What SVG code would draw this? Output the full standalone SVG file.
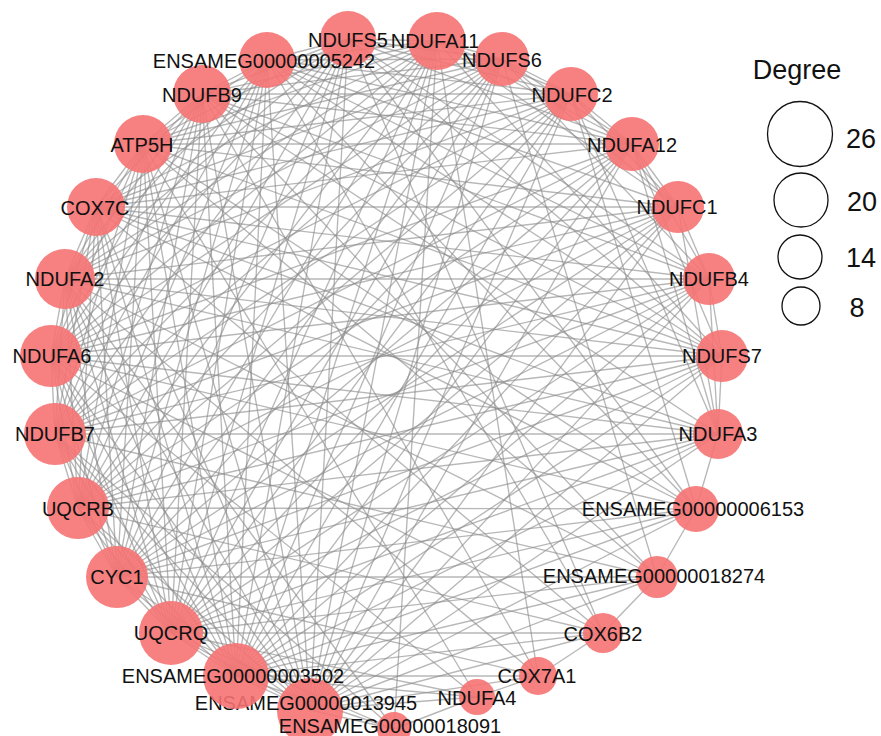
<svg xmlns="http://www.w3.org/2000/svg" width="881" height="736" viewBox="0 0 881 736">
<style>
.e{stroke:#8a8a8a;stroke-opacity:.62;stroke-width:1.35;fill:none}
.n circle{fill:#f67272;fill-opacity:.9}
.n text,.lg text{font-family:"Liberation Sans",Arial,sans-serif;fill:#111;text-anchor:middle}
.n text{font-size:20px}
.lg text{font-size:27px}
.lg circle{fill:none;stroke:#111;stroke-width:1.3}
</style>
<rect width="881" height="736" fill="#fff"/>
<g id="edges">
<line class="e" x1="394" y1="729" x2="310" y2="710"/>
<line class="e" x1="394" y1="729" x2="236" y2="676"/>
<line class="e" x1="394" y1="729" x2="171" y2="633"/>
<line class="e" x1="477" y1="697" x2="394" y2="729"/>
<line class="e" x1="437" y1="41" x2="394" y2="729"/>
<line class="e" x1="394" y1="729" x2="65" y2="279"/>
<line class="e" x1="394" y1="729" x2="55" y2="434"/>
<line class="e" x1="477" y1="697" x2="310" y2="710"/>
<line class="e" x1="477" y1="697" x2="236" y2="676"/>
<line class="e" x1="538" y1="676" x2="477" y2="697"/>
<line class="e" x1="477" y1="697" x2="171" y2="633"/>
<line class="e" x1="477" y1="697" x2="51" y2="356"/>
<line class="e" x1="477" y1="697" x2="143" y2="144"/>
<line class="e" x1="538" y1="676" x2="310" y2="710"/>
<line class="e" x1="538" y1="676" x2="236" y2="676"/>
<line class="e" x1="603" y1="633" x2="538" y2="676"/>
<line class="e" x1="538" y1="676" x2="117" y2="577"/>
<line class="e" x1="538" y1="676" x2="65" y2="279"/>
<line class="e" x1="538" y1="676" x2="202" y2="94"/>
<line class="e" x1="437" y1="41" x2="538" y2="676"/>
<line class="e" x1="603" y1="633" x2="310" y2="710"/>
<line class="e" x1="603" y1="633" x2="236" y2="676"/>
<line class="e" x1="657" y1="577" x2="603" y2="633"/>
<line class="e" x1="603" y1="633" x2="171" y2="633"/>
<line class="e" x1="603" y1="633" x2="78" y2="508"/>
<line class="e" x1="603" y1="633" x2="51" y2="356"/>
<line class="e" x1="603" y1="633" x2="96" y2="207"/>
<line class="e" x1="348" y1="39" x2="603" y2="633"/>
<line class="e" x1="603" y1="633" x2="267" y2="60"/>
<line class="e" x1="657" y1="577" x2="310" y2="710"/>
<line class="e" x1="657" y1="577" x2="236" y2="676"/>
<line class="e" x1="696" y1="509" x2="657" y2="577"/>
<line class="e" x1="657" y1="577" x2="171" y2="633"/>
<line class="e" x1="657" y1="577" x2="117" y2="577"/>
<line class="e" x1="657" y1="577" x2="55" y2="434"/>
<line class="e" x1="657" y1="577" x2="65" y2="279"/>
<line class="e" x1="657" y1="577" x2="143" y2="144"/>
<line class="e" x1="657" y1="577" x2="202" y2="94"/>
<line class="e" x1="502" y1="59" x2="657" y2="577"/>
<line class="e" x1="696" y1="509" x2="310" y2="710"/>
<line class="e" x1="696" y1="509" x2="236" y2="676"/>
<line class="e" x1="718" y1="434" x2="696" y2="509"/>
<line class="e" x1="696" y1="509" x2="171" y2="633"/>
<line class="e" x1="696" y1="509" x2="117" y2="577"/>
<line class="e" x1="696" y1="509" x2="78" y2="508"/>
<line class="e" x1="696" y1="509" x2="51" y2="356"/>
<line class="e" x1="696" y1="509" x2="96" y2="207"/>
<line class="e" x1="696" y1="509" x2="143" y2="144"/>
<line class="e" x1="348" y1="39" x2="696" y2="509"/>
<line class="e" x1="696" y1="509" x2="267" y2="60"/>
<line class="e" x1="571" y1="94" x2="696" y2="509"/>
<line class="e" x1="348" y1="39" x2="437" y2="41"/>
<line class="e" x1="348" y1="39" x2="502" y2="59"/>
<line class="e" x1="348" y1="39" x2="571" y2="94"/>
<line class="e" x1="348" y1="39" x2="632" y2="144"/>
<line class="e" x1="348" y1="39" x2="709" y2="279"/>
<line class="e" x1="348" y1="39" x2="722" y2="356"/>
<line class="e" x1="348" y1="39" x2="310" y2="710"/>
<line class="e" x1="348" y1="39" x2="236" y2="676"/>
<line class="e" x1="348" y1="39" x2="171" y2="633"/>
<line class="e" x1="348" y1="39" x2="117" y2="577"/>
<line class="e" x1="348" y1="39" x2="78" y2="508"/>
<line class="e" x1="348" y1="39" x2="55" y2="434"/>
<line class="e" x1="348" y1="39" x2="51" y2="356"/>
<line class="e" x1="348" y1="39" x2="65" y2="279"/>
<line class="e" x1="348" y1="39" x2="96" y2="207"/>
<line class="e" x1="348" y1="39" x2="143" y2="144"/>
<line class="e" x1="348" y1="39" x2="202" y2="94"/>
<line class="e" x1="348" y1="39" x2="267" y2="60"/>
<line class="e" x1="437" y1="41" x2="502" y2="59"/>
<line class="e" x1="437" y1="41" x2="571" y2="94"/>
<line class="e" x1="437" y1="41" x2="632" y2="144"/>
<line class="e" x1="437" y1="41" x2="678" y2="207"/>
<line class="e" x1="437" y1="41" x2="722" y2="356"/>
<line class="e" x1="437" y1="41" x2="310" y2="710"/>
<line class="e" x1="437" y1="41" x2="236" y2="676"/>
<line class="e" x1="437" y1="41" x2="171" y2="633"/>
<line class="e" x1="437" y1="41" x2="117" y2="577"/>
<line class="e" x1="437" y1="41" x2="78" y2="508"/>
<line class="e" x1="437" y1="41" x2="55" y2="434"/>
<line class="e" x1="437" y1="41" x2="51" y2="356"/>
<line class="e" x1="437" y1="41" x2="65" y2="279"/>
<line class="e" x1="437" y1="41" x2="96" y2="207"/>
<line class="e" x1="437" y1="41" x2="143" y2="144"/>
<line class="e" x1="437" y1="41" x2="202" y2="94"/>
<line class="e" x1="437" y1="41" x2="267" y2="60"/>
<line class="e" x1="502" y1="59" x2="571" y2="94"/>
<line class="e" x1="502" y1="59" x2="632" y2="144"/>
<line class="e" x1="502" y1="59" x2="678" y2="207"/>
<line class="e" x1="502" y1="59" x2="709" y2="279"/>
<line class="e" x1="502" y1="59" x2="310" y2="710"/>
<line class="e" x1="502" y1="59" x2="236" y2="676"/>
<line class="e" x1="502" y1="59" x2="171" y2="633"/>
<line class="e" x1="502" y1="59" x2="117" y2="577"/>
<line class="e" x1="502" y1="59" x2="78" y2="508"/>
<line class="e" x1="502" y1="59" x2="55" y2="434"/>
<line class="e" x1="502" y1="59" x2="51" y2="356"/>
<line class="e" x1="502" y1="59" x2="65" y2="279"/>
<line class="e" x1="502" y1="59" x2="96" y2="207"/>
<line class="e" x1="502" y1="59" x2="143" y2="144"/>
<line class="e" x1="502" y1="59" x2="202" y2="94"/>
<line class="e" x1="502" y1="59" x2="267" y2="60"/>
<line class="e" x1="571" y1="94" x2="632" y2="144"/>
<line class="e" x1="571" y1="94" x2="678" y2="207"/>
<line class="e" x1="571" y1="94" x2="718" y2="434"/>
<line class="e" x1="571" y1="94" x2="310" y2="710"/>
<line class="e" x1="571" y1="94" x2="236" y2="676"/>
<line class="e" x1="571" y1="94" x2="171" y2="633"/>
<line class="e" x1="571" y1="94" x2="117" y2="577"/>
<line class="e" x1="571" y1="94" x2="78" y2="508"/>
<line class="e" x1="571" y1="94" x2="55" y2="434"/>
<line class="e" x1="571" y1="94" x2="51" y2="356"/>
<line class="e" x1="571" y1="94" x2="65" y2="279"/>
<line class="e" x1="571" y1="94" x2="96" y2="207"/>
<line class="e" x1="571" y1="94" x2="143" y2="144"/>
<line class="e" x1="571" y1="94" x2="202" y2="94"/>
<line class="e" x1="571" y1="94" x2="267" y2="60"/>
<line class="e" x1="632" y1="144" x2="678" y2="207"/>
<line class="e" x1="632" y1="144" x2="709" y2="279"/>
<line class="e" x1="632" y1="144" x2="722" y2="356"/>
<line class="e" x1="632" y1="144" x2="718" y2="434"/>
<line class="e" x1="632" y1="144" x2="310" y2="710"/>
<line class="e" x1="632" y1="144" x2="236" y2="676"/>
<line class="e" x1="632" y1="144" x2="171" y2="633"/>
<line class="e" x1="632" y1="144" x2="117" y2="577"/>
<line class="e" x1="632" y1="144" x2="78" y2="508"/>
<line class="e" x1="632" y1="144" x2="55" y2="434"/>
<line class="e" x1="632" y1="144" x2="51" y2="356"/>
<line class="e" x1="632" y1="144" x2="96" y2="207"/>
<line class="e" x1="632" y1="144" x2="143" y2="144"/>
<line class="e" x1="632" y1="144" x2="202" y2="94"/>
<line class="e" x1="632" y1="144" x2="267" y2="60"/>
<line class="e" x1="678" y1="207" x2="709" y2="279"/>
<line class="e" x1="678" y1="207" x2="718" y2="434"/>
<line class="e" x1="678" y1="207" x2="310" y2="710"/>
<line class="e" x1="678" y1="207" x2="236" y2="676"/>
<line class="e" x1="678" y1="207" x2="171" y2="633"/>
<line class="e" x1="678" y1="207" x2="117" y2="577"/>
<line class="e" x1="678" y1="207" x2="78" y2="508"/>
<line class="e" x1="678" y1="207" x2="55" y2="434"/>
<line class="e" x1="678" y1="207" x2="51" y2="356"/>
<line class="e" x1="678" y1="207" x2="65" y2="279"/>
<line class="e" x1="678" y1="207" x2="96" y2="207"/>
<line class="e" x1="678" y1="207" x2="143" y2="144"/>
<line class="e" x1="678" y1="207" x2="267" y2="60"/>
<line class="e" x1="709" y1="279" x2="722" y2="356"/>
<line class="e" x1="709" y1="279" x2="718" y2="434"/>
<line class="e" x1="709" y1="279" x2="310" y2="710"/>
<line class="e" x1="709" y1="279" x2="236" y2="676"/>
<line class="e" x1="709" y1="279" x2="171" y2="633"/>
<line class="e" x1="709" y1="279" x2="117" y2="577"/>
<line class="e" x1="709" y1="279" x2="78" y2="508"/>
<line class="e" x1="709" y1="279" x2="55" y2="434"/>
<line class="e" x1="709" y1="279" x2="51" y2="356"/>
<line class="e" x1="709" y1="279" x2="65" y2="279"/>
<line class="e" x1="709" y1="279" x2="96" y2="207"/>
<line class="e" x1="709" y1="279" x2="202" y2="94"/>
<line class="e" x1="709" y1="279" x2="267" y2="60"/>
<line class="e" x1="722" y1="356" x2="718" y2="434"/>
<line class="e" x1="722" y1="356" x2="310" y2="710"/>
<line class="e" x1="722" y1="356" x2="236" y2="676"/>
<line class="e" x1="722" y1="356" x2="171" y2="633"/>
<line class="e" x1="722" y1="356" x2="117" y2="577"/>
<line class="e" x1="722" y1="356" x2="78" y2="508"/>
<line class="e" x1="722" y1="356" x2="55" y2="434"/>
<line class="e" x1="722" y1="356" x2="51" y2="356"/>
<line class="e" x1="722" y1="356" x2="65" y2="279"/>
<line class="e" x1="722" y1="356" x2="96" y2="207"/>
<line class="e" x1="722" y1="356" x2="143" y2="144"/>
<line class="e" x1="722" y1="356" x2="202" y2="94"/>
<line class="e" x1="722" y1="356" x2="267" y2="60"/>
<line class="e" x1="718" y1="434" x2="310" y2="710"/>
<line class="e" x1="718" y1="434" x2="236" y2="676"/>
<line class="e" x1="718" y1="434" x2="171" y2="633"/>
<line class="e" x1="718" y1="434" x2="117" y2="577"/>
<line class="e" x1="718" y1="434" x2="78" y2="508"/>
<line class="e" x1="718" y1="434" x2="55" y2="434"/>
<line class="e" x1="718" y1="434" x2="51" y2="356"/>
<line class="e" x1="718" y1="434" x2="65" y2="279"/>
<line class="e" x1="718" y1="434" x2="96" y2="207"/>
<line class="e" x1="718" y1="434" x2="202" y2="94"/>
<line class="e" x1="310" y1="710" x2="236" y2="676"/>
<line class="e" x1="310" y1="710" x2="171" y2="633"/>
<line class="e" x1="310" y1="710" x2="117" y2="577"/>
<line class="e" x1="310" y1="710" x2="78" y2="508"/>
<line class="e" x1="310" y1="710" x2="55" y2="434"/>
<line class="e" x1="310" y1="710" x2="51" y2="356"/>
<line class="e" x1="310" y1="710" x2="65" y2="279"/>
<line class="e" x1="310" y1="710" x2="96" y2="207"/>
<line class="e" x1="310" y1="710" x2="143" y2="144"/>
<line class="e" x1="310" y1="710" x2="202" y2="94"/>
<line class="e" x1="310" y1="710" x2="267" y2="60"/>
<line class="e" x1="236" y1="676" x2="171" y2="633"/>
<line class="e" x1="236" y1="676" x2="117" y2="577"/>
<line class="e" x1="236" y1="676" x2="78" y2="508"/>
<line class="e" x1="236" y1="676" x2="55" y2="434"/>
<line class="e" x1="236" y1="676" x2="51" y2="356"/>
<line class="e" x1="236" y1="676" x2="65" y2="279"/>
<line class="e" x1="236" y1="676" x2="96" y2="207"/>
<line class="e" x1="236" y1="676" x2="143" y2="144"/>
<line class="e" x1="236" y1="676" x2="202" y2="94"/>
<line class="e" x1="236" y1="676" x2="267" y2="60"/>
<line class="e" x1="171" y1="633" x2="117" y2="577"/>
<line class="e" x1="171" y1="633" x2="78" y2="508"/>
<line class="e" x1="171" y1="633" x2="55" y2="434"/>
<line class="e" x1="171" y1="633" x2="51" y2="356"/>
<line class="e" x1="171" y1="633" x2="65" y2="279"/>
<line class="e" x1="171" y1="633" x2="96" y2="207"/>
<line class="e" x1="171" y1="633" x2="143" y2="144"/>
<line class="e" x1="171" y1="633" x2="202" y2="94"/>
<line class="e" x1="171" y1="633" x2="267" y2="60"/>
<line class="e" x1="117" y1="577" x2="78" y2="508"/>
<line class="e" x1="117" y1="577" x2="55" y2="434"/>
<line class="e" x1="117" y1="577" x2="51" y2="356"/>
<line class="e" x1="117" y1="577" x2="65" y2="279"/>
<line class="e" x1="117" y1="577" x2="96" y2="207"/>
<line class="e" x1="117" y1="577" x2="143" y2="144"/>
<line class="e" x1="117" y1="577" x2="202" y2="94"/>
<line class="e" x1="117" y1="577" x2="267" y2="60"/>
<line class="e" x1="78" y1="508" x2="55" y2="434"/>
<line class="e" x1="78" y1="508" x2="51" y2="356"/>
<line class="e" x1="78" y1="508" x2="65" y2="279"/>
<line class="e" x1="78" y1="508" x2="96" y2="207"/>
<line class="e" x1="78" y1="508" x2="143" y2="144"/>
<line class="e" x1="78" y1="508" x2="202" y2="94"/>
<line class="e" x1="78" y1="508" x2="267" y2="60"/>
<line class="e" x1="55" y1="434" x2="51" y2="356"/>
<line class="e" x1="55" y1="434" x2="65" y2="279"/>
<line class="e" x1="55" y1="434" x2="96" y2="207"/>
<line class="e" x1="55" y1="434" x2="143" y2="144"/>
<line class="e" x1="55" y1="434" x2="202" y2="94"/>
<line class="e" x1="55" y1="434" x2="267" y2="60"/>
<line class="e" x1="51" y1="356" x2="65" y2="279"/>
<line class="e" x1="51" y1="356" x2="96" y2="207"/>
<line class="e" x1="51" y1="356" x2="143" y2="144"/>
<line class="e" x1="51" y1="356" x2="202" y2="94"/>
<line class="e" x1="51" y1="356" x2="267" y2="60"/>
<line class="e" x1="65" y1="279" x2="96" y2="207"/>
<line class="e" x1="65" y1="279" x2="143" y2="144"/>
<line class="e" x1="65" y1="279" x2="202" y2="94"/>
<line class="e" x1="65" y1="279" x2="267" y2="60"/>
<line class="e" x1="96" y1="207" x2="143" y2="144"/>
<line class="e" x1="96" y1="207" x2="202" y2="94"/>
<line class="e" x1="143" y1="144" x2="202" y2="94"/>
<line class="e" x1="143" y1="144" x2="267" y2="60"/>
<line class="e" x1="202" y1="94" x2="267" y2="60"/>
</g>
<g id="nodes">
<g id="n-NDUFS5" class="n"><circle cx="348" cy="39" r="28"/><text x="348" y="47">NDUFS5</text></g>
<g id="n-NDUFA11" class="n"><circle cx="437" cy="41" r="29"/><text x="435" y="48">NDUFA11</text></g>
<g id="n-NDUFS6" class="n"><circle cx="502" cy="59" r="27"/><text x="502" y="67">NDUFS6</text></g>
<g id="n-NDUFC2" class="n"><circle cx="571" cy="94" r="27"/><text x="572" y="102">NDUFC2</text></g>
<g id="n-NDUFA12" class="n"><circle cx="632" cy="144" r="27"/><text x="632" y="152">NDUFA12</text></g>
<g id="n-NDUFC1" class="n"><circle cx="678" cy="207" r="26"/><text x="677" y="214">NDUFC1</text></g>
<g id="n-NDUFB4" class="n"><circle cx="709" cy="279" r="26"/><text x="709" y="286">NDUFB4</text></g>
<g id="n-NDUFS7" class="n"><circle cx="722" cy="356" r="26"/><text x="722" y="363">NDUFS7</text></g>
<g id="n-NDUFA3" class="n"><circle cx="718" cy="434" r="25"/><text x="718" y="441">NDUFA3</text></g>
<g id="n-ENSAMEG00000006153" class="n"><circle cx="696" cy="509" r="23"/><text x="693" y="516">ENSAMEG00000006153</text></g>
<g id="n-ENSAMEG00000018274" class="n"><circle cx="657" cy="577" r="21"/><text x="654" y="583">ENSAMEG00000018274</text></g>
<g id="n-COX6B2" class="n"><circle cx="603" cy="633" r="20"/><text x="603" y="641">COX6B2</text></g>
<g id="n-COX7A1" class="n"><circle cx="538" cy="676" r="19"/><text x="537" y="683">COX7A1</text></g>
<g id="n-NDUFA4" class="n"><circle cx="477" cy="697" r="18"/><text x="477" y="705">NDUFA4</text></g>
<g id="n-ENSAMEG00000013945" class="n"><circle cx="310" cy="711" r="33"/><text x="306" y="710">ENSAMEG00000013945</text></g>
<g id="n-ENSAMEG00000003502" class="n"><circle cx="236" cy="676" r="33"/><text x="233" y="683">ENSAMEG00000003502</text></g>
<g id="n-ENSAMEG00000018091" class="n"><circle cx="394" cy="729" r="17"/><text x="390" y="733">ENSAMEG00000018091</text></g>
<g id="n-UQCRQ" class="n"><circle cx="171" cy="633" r="32"/><text x="171" y="640">UQCRQ</text></g>
<g id="n-CYC1" class="n"><circle cx="117" cy="577" r="31"/><text x="117" y="584">CYC1</text></g>
<g id="n-UQCRB" class="n"><circle cx="78" cy="508" r="31"/><text x="78" y="516">UQCRB</text></g>
<g id="n-NDUFB7" class="n"><circle cx="55" cy="434" r="31"/><text x="55" y="441">NDUFB7</text></g>
<g id="n-NDUFA6" class="n"><circle cx="51" cy="356" r="31"/><text x="52" y="363">NDUFA6</text></g>
<g id="n-NDUFA2" class="n"><circle cx="65" cy="279" r="30"/><text x="65" y="286">NDUFA2</text></g>
<g id="n-COX7C" class="n"><circle cx="96" cy="207" r="29"/><text x="95" y="215">COX7C</text></g>
<g id="n-ATP5H" class="n"><circle cx="143" cy="144" r="29"/><text x="142" y="152">ATP5H</text></g>
<g id="n-NDUFB9" class="n"><circle cx="202" cy="94" r="29"/><text x="202" y="102">NDUFB9</text></g>
<g id="n-ENSAMEG00000005242" class="n"><circle cx="267" cy="60" r="28"/><text x="264" y="68">ENSAMEG00000005242</text></g>
</g>
<g id="legend" class="lg">
<text x="797" y="79">Degree</text>
<circle cx="800" cy="134" r="32.5"/><text x="861" y="148">26</text>
<circle cx="801" cy="200" r="27"/><text x="862" y="211">20</text>
<circle cx="800" cy="257" r="22"/><text x="861" y="267">14</text>
<circle cx="801" cy="306" r="19"/><text x="857" y="317">8</text>
</g>
</svg>
